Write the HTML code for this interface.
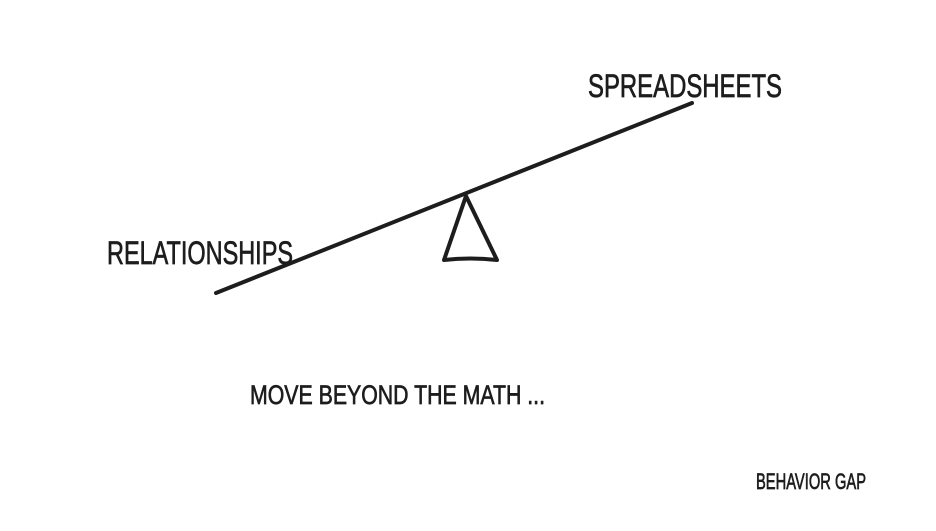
<!DOCTYPE html>
<html><head><meta charset="utf-8"><style>
html,body{margin:0;padding:0;background:#fff;}
svg{display:block;}
text{font-family:"Liberation Sans",sans-serif;fill:#1d1d1d;stroke:#1d1d1d;stroke-width:0.7;}
</style></head><body>
<svg width="936" height="531" viewBox="0 0 936 531" xmlns="http://www.w3.org/2000/svg">
<rect width="936" height="531" fill="#fff"/>
<line x1="216" y1="293" x2="692" y2="103" stroke="#1d1d1d" stroke-width="4" stroke-linecap="round"/>
<path d="M466 196 L444 260 Q470 257 497 260 Z" fill="none" stroke="#1d1d1d" stroke-width="4" stroke-linejoin="round"/>
<text x="588" y="97" font-size="32" textLength="194" lengthAdjust="spacingAndGlyphs">SPREADSHEETS</text>
<text x="107" y="264" font-size="32" textLength="186" lengthAdjust="spacingAndGlyphs">RELATIONSHIPS</text>
<text x="250" y="404" font-size="27" textLength="295" lengthAdjust="spacingAndGlyphs">MOVE BEYOND THE MATH ...</text>
<text x="756" y="489" font-size="22" textLength="110" lengthAdjust="spacingAndGlyphs">BEHAVIOR GAP</text>
</svg>
</body></html>
